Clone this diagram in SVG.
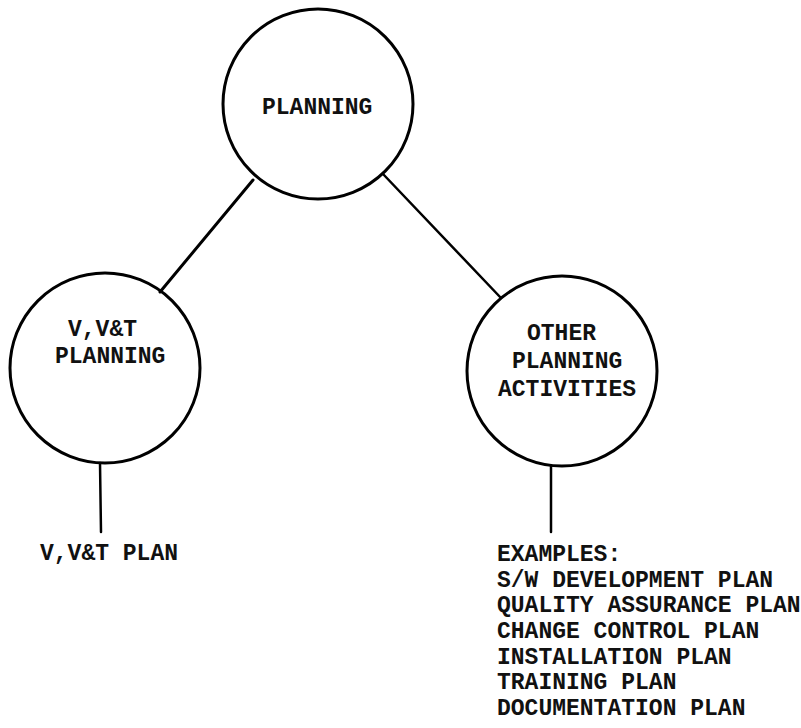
<svg xmlns="http://www.w3.org/2000/svg" width="801" height="728" viewBox="0 0 801 728">
<style>
.node circle{fill:none;stroke:#000;stroke-width:3}
.conn line{stroke:#000;stroke-width:3;stroke-linecap:round}
text{font-family:"Liberation Mono","DejaVu Sans Mono",monospace;font-size:23px;font-weight:bold;fill:#111}
</style>
<rect width="801" height="728" fill="#fff"/>
<g id="connectors" class="conn">
<line x1="253" y1="180" x2="160" y2="292"/>
<line x1="383" y1="174" x2="501" y2="298" style="stroke-width:2.5"/>
<line x1="100" y1="463" x2="101" y2="532" style="stroke-width:2.5"/>
<line x1="551" y1="466" x2="551" y2="532" style="stroke-width:2.5"/>
</g>
<g id="planning" class="node">
<circle cx="318" cy="104" r="95"/>
<text x="262" y="114">PLANNING</text>
</g>
<g id="vvt-planning" class="node">
<circle cx="105" cy="368" r="95"/>
<text x="68" y="336">V,V&amp;T</text>
<text x="55" y="363">PLANNING</text>
</g>
<g id="other-planning" class="node">
<circle cx="562" cy="371" r="95"/>
<text x="527" y="340">OTHER</text>
<text x="512" y="368">PLANNING</text>
<text x="498" y="396">ACTIVITIES</text>
</g>
<g id="vvt-plan">
<text x="40" y="560">V,V&amp;T PLAN</text>
</g>
<g id="examples">
<text x="497" y="561">EXAMPLES:</text>
<text x="497" y="587">S/W DEVELOPMENT PLAN</text>
<text x="497" y="612">QUALITY ASSURANCE PLAN</text>
<text x="497" y="638">CHANGE CONTROL PLAN</text>
<text x="497" y="664">INSTALLATION PLAN</text>
<text x="497" y="689">TRAINING PLAN</text>
<text x="497" y="715">DOCUMENTATION PLAN</text>
</g>
</svg>
